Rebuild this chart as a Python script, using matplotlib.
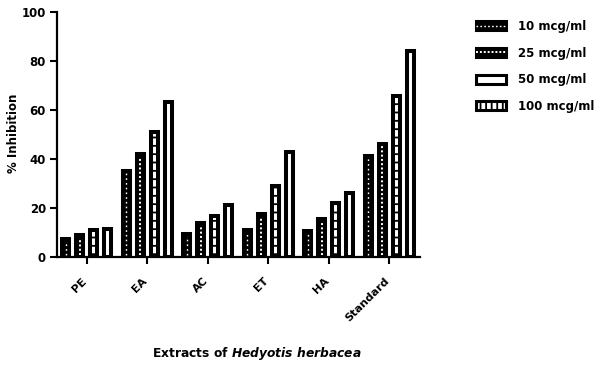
import numpy as np
import matplotlib
matplotlib.use('Agg')
import matplotlib.pyplot as plt
import matplotlib.transforms as mtransforms
from matplotlib.patches import Patch
from matplotlib.lines import Line2D
from matplotlib.legend_handler import HandlerTuple

plt.rcParams['font.family'] = 'DejaVu Sans'
plt.rcParams['font.weight'] = 'bold'
plt.rcParams['mathtext.fontset'] = 'custom'
plt.rcParams['mathtext.bfit'] = 'DejaVu Sans:bold:italic'
plt.rcParams['hatch.linewidth'] = 1.3

extracts = ['PE', 'EA', 'AC', 'ET', 'HA', 'Standard']
conc_labels = ['10 mcg/ml', '25 mcg/ml', '50 mcg/ml', '100 mcg/ml']
inh_10 = [7.4, 35.3, 9.5, 11.1, 10.5, 41.3]
inh_25 = [8.8, 42.0, 13.8, 17.5, 15.4, 46.2]
inh_50 = [11.1, 51.0, 16.8, 28.8, 22.0, 65.8]
inh_100 = [11.5, 63.2, 21.3, 42.7, 26.3, 83.9]
series = [inh_10, inh_25, inh_50, inh_100]

fig = plt.figure(figsize=(6.14, 3.67), dpi=100)
ax = fig.add_axes([57/614, 110/367, 363/614, 245/367])

x = np.arange(len(extracts))
step = 0.231
w = 0.116
lw = 2.9
offsets = (np.arange(4) - 1.5) * step

for k, vals in enumerate(series):
    xs = x + offsets[k]
    vals = np.array(vals)
    if k < 2:
        ax.bar(xs, vals, w, facecolor='black', edgecolor='black', linewidth=lw, zorder=2)
        ls = (0, (1.2, 2.2)) if k == 0 else (0, (1.0, 1.2))
        ax.vlines(xs, 0.8, vals - 1.0, colors='white', linestyles=ls,
                  linewidth=1.0 if k == 0 else 1.4, zorder=3)
    elif k == 2:
        ax.bar(xs, vals, w, facecolor='white', edgecolor='black', linewidth=lw,
               hatch='--', zorder=2)
    else:
        ax.bar(xs, vals, w, facecolor='white', edgecolor='black', linewidth=lw, zorder=2)

ax.set_xlim(-0.49, 5.505)
ax.set_ylim(0, 100)
ax.set_yticks(np.arange(0, 101, 20))
ax.set_xticks(x)
ax.set_xticklabels(extracts, rotation=45, ha='right', rotation_mode='anchor',
                   fontsize=8, fontweight='bold')
ax.tick_params(axis='x', pad=10, length=5, width=1.5)
ax.tick_params(axis='y', labelsize=8.5, length=5, width=1.5, pad=3)
shift = mtransforms.ScaledTranslation(-5/100, 2/100, fig.dpi_scale_trans)
for lab in ax.get_xticklabels():
    lab.set_transform(lab.get_transform() + shift)
for s in ['top', 'right']:
    ax.spines[s].set_visible(False)
for s in ['left', 'bottom']:
    ax.spines[s].set_linewidth(1.6)

fig.text(14/614, 1 - 133/367, '% Inhibition', rotation=90, ha='center', va='center',
         fontsize=8.5, fontweight='bold')
fig.text(257/614, 1 - 353/367, r'Extracts of $\mathbfit{Hedyotis\ herbacea}$',
         ha='center', va='center', fontsize=8.8, fontweight='bold')

# legend drawn like the reference key
h10 = (Patch(facecolor='black', edgecolor='black', linewidth=2.2),
       Line2D([], [], color='white', linestyle=(0, (1.2, 1.6)), linewidth=1.0))
h25 = (Patch(facecolor='black', edgecolor='black', linewidth=2.2),
       Line2D([], [], color='white', linestyle=(0, (1.0, 1.0)), linewidth=1.4))
h50 = Patch(facecolor='white', edgecolor='black', linewidth=2.2)
h100 = Patch(facecolor='white', edgecolor='black', linewidth=2.2, hatch='|||')
fig.legend([h10, h25, h50, h100], conc_labels, loc='upper left',
           bbox_to_anchor=(476/614, 1 - 20/367), frameon=False, fontsize=8.5,
           handler_map={tuple: HandlerTuple(ndivide=1, pad=0)},
           handlelength=2.5, handleheight=0.8, labelspacing=1.15,
           handletextpad=1.1, borderpad=0, borderaxespad=0)

fig.savefig('out.png', dpi=100)
